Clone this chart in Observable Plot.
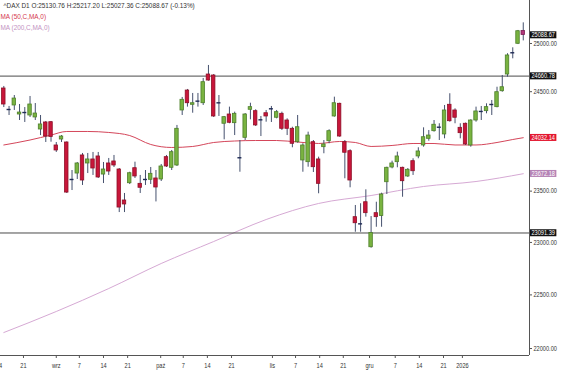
<!DOCTYPE html>
<html><head><meta charset="utf-8">
<script src="https://cdn.jsdelivr.net/npm/d3@7"></script>
<script src="https://cdn.jsdelivr.net/npm/@observablehq/plot@0.6"></script>
<style>
body{margin:0;background:#fff;}
#chart{position:relative;width:564px;height:373px;overflow:hidden;background:#fff;}
</style></head><body><div id="chart"></div>
<script>
// ---- data (daily candles, oldest first) ----
const opens=[24533,24318,24359,24267,24287,24257,24237,24115,24186,24189,
23954,24014,23984,23615,23674,23854,23774,23814,23844,23664,
23774,23794,23714,23408,23578,23727,23572,23615,23612,23625,
23615,23837,23731,23754,24308,24512,24366,24403,24382,24677,
24667,24386,24173,24267,24179,23831,24031,24315,24301,24213,
24280,24325,24234,24274,24206,24122,23987,23804,23787,23987,
23814,23937,23997,24247,24376,23987,23897,23245,23180,23391,
22954,23284,23256,23588,23734,23787,23731,23645,23797,23844,
23954,24021,24098,24138,24065,24366,24308,24132,24173,23954,
24206,24298,24301,24369,24342,24505,24677,24903,24997,25130.76];
const highs=[24554,24349,24461,24369,24338,24451,24379,24257,24196,24196,
23984,24054,23990,23704,23784,23874,23874,23884,23884,23784,
23824,23854,23724,23477,23687,23787,23655,23704,23734,23704,
23764,23854,23904,24156,24441,24523,24482,24482,24636,24771,
24677,24461,24247,24342,24291,24004,24277,24382,24315,24247,
24308,24349,24308,24291,24223,24138,24257,23971,24088,24004,
23837,24004,24112,24444,24382,24004,23911,23359,23376,23513,
23251,23391,23480,23737,23797,23887,23737,23724,23821,23931,
24132,24105,24206,24173,24359,24479,24325,24173,24180,24213,
24342,24349,24376,24410,24546,24667,24893,24955,25137,25217.20];
const lows=[24338,24257,24308,24206,24186,24237,24206,24054,23984,23987,
23884,23984,23477,23506,23615,23556,23674,23655,23625,23575,
23655,23734,23290,23290,23565,23625,23477,23556,23565,23394,
23595,23734,23704,23744,24257,24342,24280,24342,24359,24608,
24237,24247,24011,24173,24054,23687,24004,24213,24145,24044,
24189,24186,24223,24105,24054,23931,23977,23687,23737,23684,
23474,23871,23971,24240,24037,23622,23533,23099,23099,23245,
22945,23147,23147,23467,23721,23731,23440,23635,23655,23821,
23937,23997,24088,24004,24021,24189,24173,24021,23954,23937,
24189,24206,24274,24257,24335,24495,24650,24840,24989,25027.36];
const closes=[24369,24318,24430,24287,24287,24369,24277,24166,24044,24040,
23904,24044,23486,23615,23774,23605,23814,23724,23635,23714,
23694,23754,23339,23369,23677,23645,23533,23615,23671,23536,
23744,23744,23887,24122,24417,24382,24382,24403,24598,24615,
24247,24386,24240,24183,24274,23831,24267,24342,24156,24213,
24247,24325,24291,24122,24122,23971,24138,23954,24054,23737,
23572,23964,24098,24382,24044,23881,23605,23186,23180,23284,
23091,23245,23467,23731,23774,23844,23598,23711,23697,23894,
24037,24054,24163,24138,24308,24199,24234,24078,23964,24206,
24298,24298,24342,24369,24495,24546,24875,24903,25129,25088.67];

// moving averages sampled at candle indices
const ma50Idx=[0,5,9,12,16,20,24,28,32,36,40,44,48,52,56,60,64,67,70,74,78,82,86,90,94,97,99];
const ma50Val=[23959,24009,24059,24095,24095,24085,24054,23964,23934,23944,23984,23999,24004,24004,23989,23974,23994,23984,23944,23954,23974,23974,23959,23959,23984,24014,24032.14];
const ma200Idx=[0,10,20,30,40,50,60,70,80,90,99];
const ma200Val=[22148,22344,22560,22798,23009,23222,23379,23457,23546,23595,23672.18];

// horizontal levels
const levels=[24660.78,23091.39];

// axis ticks
const yTicks=[22000,22500,23000,23500,24500,25000];
const xTickPos=[-0.9,3.75,10.0,14.4,19.0,23.6,29.9,34.2,38.8,43.4,51.2,55.6,60.2,64.7,69.7,74.6,79.2,83.8,87.4];
const xTickLab=["14","21","wrz","7","14","21","paź","7","14","21","lis","7","14","21","gru","7","14","21","2026"];

const titleText="^DAX D1 O:25130.76 H:25217.20 L:25027.36 C:25088.67 (-0.13%)";
const ma50Label="MA (50,C,MA,0)";
const ma200Label="MA (200,C,MA,0)";

// ---- build ----
const candles=opens.map((o,i)=>({i,open:o,high:highs[i],low:lows[i],close:closes[i]}));
const lastI=candles.length-1;
const bodies=candles.filter(d=>d.open!==d.close);
const dojis=candles.filter(d=>d.open===d.close);
const ma50=ma50Idx.map((i,k)=>({i,v:ma50Val[k]}));
const ma200=ma200Idx.map((i,k)=>({i,v:ma200Val[k]}));
const tags=[
  {v:closes[lastI],bg:"#111111"},
  {v:levels[0],bg:"#111111"},
  {v:ma50Val[ma50Val.length-1],bg:"#e3172f"},
  {v:ma200Val[ma200Val.length-1],bg:"#b684b6"},
  {v:levels[1],bg:"#111111"}
];
const labMap=new Map(xTickPos.map((p,k)=>[p,xTickLab[k]]));

const xDomain=[-0.63,100.19];
const yDomain=[21935.7,25454.6];

const GREEN="#79b340", GREEN_S="#4d7f2a", RED="#c8163a", RED_S="#8e0f27", WICK="#46516e", DOJI="#1f2a55", LAST="#b2357a";
const hw=0.33;

const font="'Liberation Sans Narrow','Arial Narrow','Liberation Sans',Arial,sans-serif";

const plot=Plot.plot({
  width:564,height:373,
  marginLeft:0,marginRight:35,marginTop:0,marginBottom:18,
  style:{fontFamily:font,fontSize:"7px",background:"#fff",color:"#333"},
  x:{type:"linear",domain:xDomain,axis:null},
  y:{type:"log",domain:yDomain,axis:null},
  marks:[
    Plot.line(ma200,{x:"i",y:"v",stroke:"#d6a9d4",strokeWidth:1,curve:"monotone-x"}),
    Plot.line(ma50,{x:"i",y:"v",stroke:"#d4465a",strokeWidth:1,curve:"monotone-x"}),
    Plot.ruleY(levels,{stroke:"#4a4a4a",strokeWidth:1}),
    Plot.ruleX(candles,{x:"i",y1:"low",y2:"high",stroke:WICK,strokeWidth:1}),
    Plot.rect(bodies,{x1:d=>d.i-hw,x2:d=>d.i+hw,y1:"open",y2:"close",
      fill:d=>d.i===lastI?LAST:(d.close>d.open?GREEN:RED),
      stroke:d=>d.i===lastI?"#7a1f55":(d.close>d.open?GREEN_S:RED_S),strokeWidth:0.8}),
    Plot.ruleY(dojis,{y:"open",x1:d=>d.i-hw-0.05,x2:d=>d.i+hw+0.05,stroke:DOJI,strokeWidth:1.4}),
    // frame lines
    Plot.ruleX([xDomain[1]],{stroke:"#555",strokeWidth:1}),
    Plot.ruleY([yDomain[0]],{stroke:"#555",strokeWidth:1}),
    Plot.axisY({anchor:"right",ticks:yTicks,tickFormat:d=>d.toFixed(2),tickSize:2,tickPadding:2,label:null,fontSize:7,fill:"#333",stroke:"#555"}),
    Plot.axisX({anchor:"bottom",ticks:xTickPos,tickFormat:d=>labMap.get(d),tickSize:3,tickPadding:5,label:null,fontSize:7,fill:"#333",stroke:"#555"}),
    Plot.text(tags,{y:"v",text:d=>d.v.toFixed(2),frameAnchor:"right",dx:2,textAnchor:"start",fill:"#fff",fontSize:7}),
    Plot.text([titleText],{text:d=>d,frameAnchor:"top-left",dx:3,dy:2,lineAnchor:"top",textAnchor:"start",fill:"#333",fontSize:8}),
    Plot.text([ma50Label],{text:d=>d,frameAnchor:"top-left",dx:0,dy:13,lineAnchor:"top",textAnchor:"start",fill:"#d5384d",fontSize:8}),
    Plot.text([ma200Label],{text:d=>d,frameAnchor:"top-left",dx:0,dy:24,lineAnchor:"top",textAnchor:"start",fill:"#c392c2",fontSize:8})
  ]
});
document.getElementById("chart").appendChild(plot);

const svg=plot.tagName.toLowerCase()==="svg"?plot:plot.querySelector("svg");
const ns="http://www.w3.org/2000/svg";
const SQ=0.8; // condensed look
const tagStr=tags.map(d=>d.v.toFixed(2));
svg.querySelectorAll("text").forEach(t=>{
  const len=t.getComputedTextLength();
  if(len>0){
    t.setAttribute("textLength",(len*SQ).toFixed(2));
    t.setAttribute("lengthAdjust","spacingAndGlyphs");
  }
  const k=tagStr.indexOf(t.textContent);
  const gf=t.parentNode&&t.parentNode.getAttribute("fill");
  if(k>=0&&(gf==="#fff"||gf==="white")){
    const b=t.getBBox();
    const r=document.createElementNS(ns,"rect");
    r.setAttribute("x",b.x-1.5);r.setAttribute("y",b.y);
    r.setAttribute("width",len*SQ+3);r.setAttribute("height",b.height);
    r.setAttribute("fill",tags[k].bg);
    const tr=t.getAttribute("transform");if(tr)r.setAttribute("transform",tr);
    t.parentNode.insertBefore(r,t);
  }
});
</script></body></html>
